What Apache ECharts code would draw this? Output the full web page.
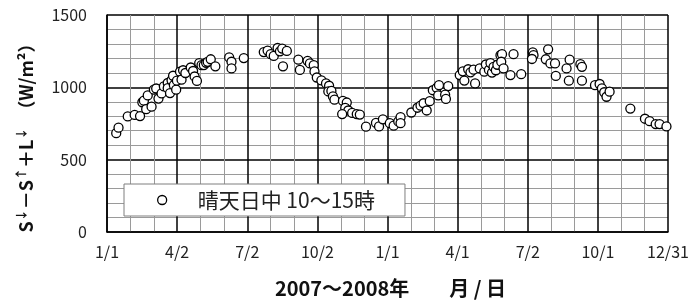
<!DOCTYPE html>
<html><head><meta charset="utf-8">
<script src="https://cdn.jsdelivr.net/npm/echarts@6/dist/echarts.min.js"></script>
<style>html,body{margin:0;padding:0;background:#fff}#c{width:700px;height:307px}</style>
</head><body><div id="c"></div>
<script>
// day offset from 2007-01-01
const days = [12,15,27,36,43,46,48,51,58,53,61,64,67,71,74,79,79,82,84,86,87,90,91,95,97,99,102,109,112,114,117,120,123,126,129,131,135,141,159,162,162,178,204,209,213,217,222,225,228,234,229,249,251,261,264,269,270,273,279,285,289,288,292,294,296,307,312,310,314,306,319,325,329,337,350,354,359,368,373,379,382,382,396,404,408,412,416,420,424,429,432,431,440,441,444,459,463,465,470,473,477,479,485,491,493,497,499,501,503,506,508,512,514,513,516,525,529,539,554,555,553,574,571,577,583,584,598,602,601,616,618,618,635,641,644,647,650,654,681,700,706,714,719,728];
const values = [683,721,799,809,801,897,908,849,866,944,984,992,922,958,1006,1030,994,960,1049,1080,1015,984,1046,1108,1053,1118,1099,1137,1113,1075,1044,1168,1153,1154,1170,1176,1194,1145,1207,1177,1131,1202,1244,1254,1229,1217,1272,1249,1268,1252,1145,1191,1120,1183,1165,1154,1110,1068,1048,1027,1011,972,975,937,915,906,895,858,840,815,823,815,812,728,754,730,779,752,735,764,794,752,826,859,873,890,840,904,980,997,1015,944,949,920,1009,1085,1111,1047,1125,1104,1122,1027,1131,1108,1158,1120,1168,1102,1142,1118,1156,1222,1229,1177,1131,1085,1229,1091,1241,1222,1196,1263,1194,1165,1165,1079,1131,1191,1046,1160,1142,1046,1015,1023,993,966,935,970,853,783,766,746,746,730];
const xTickLabels = ['1/1','4/2','7/2','10/2','1/1','4/1','7/2','10/1','12/31'];
const yTickLabels = ['0','500','1000','1500'];
const seriesName = '晴天日中 10～15時';
const xName = '2007～2008年　　月 / 日';

const FONT = '"Noto Sans CJK JP", "Noto Sans", sans-serif';
const XMAX = 730, XINT = XMAX / 8;
const points = days.map((d, i) => [d, values[i]]);

const chart = echarts.init(document.getElementById('c'), null, {renderer: 'canvas'});
chart.setOption({
  backgroundColor: '#fff',
  animation: false,
  grid: {left: 107, right: 32, top: 15, bottom: 75, containLabel: false},
  xAxis: {
    type: 'value', min: 0, max: XMAX, interval: XINT,
    name: xName, nameLocation: 'middle', nameGap: 46,
    nameTextStyle: {fontFamily: FONT, fontSize: 20, fontWeight: 'bold', color: '#111', padding: [0, 0, 0, 6]},
    axisLine: {show: true, lineStyle: {color: '#000', width: 1.5}},
    axisTick: {show: false},
    minorTick: {show: false, splitNumber: 3},
    minorSplitLine: {show: true, lineStyle: {color: '#9a9a9a', width: 1}},
    splitLine: {show: true, lineStyle: {color: '#000', width: 1.5}},
    axisLabel: {
      margin: 12, fontFamily: FONT, fontSize: 16, color: '#222',
      formatter: v => xTickLabels[Math.round(v / XINT)] || ''
    }
  },
  yAxis: {
    type: 'value', min: 0, max: 1500, interval: 500,
    name: '{b|S}{a|↓}{b|－S}{a|↑}{b|＋L}{a|↓}{b|　（W/m²）}',
    nameLocation: 'middle', nameGap: 70,
    nameTextStyle: {
      fontFamily: FONT, color: '#111', padding: [0, 0, 0, -20],
      rich: {
        b: {fontFamily: FONT, fontSize: 18, fontWeight: 'bold', color: '#111', lineHeight: 22},
        a: {fontFamily: FONT, fontSize: 12, fontWeight: 'bold', color: '#111', lineHeight: 22, verticalAlign: 'top'}
      }
    },
    axisLine: {show: true, lineStyle: {color: '#000', width: 1.5}},
    axisTick: {show: false},
    minorTick: {show: false, splitNumber: 5},
    minorSplitLine: {show: true, lineStyle: {color: '#9a9a9a', width: 1}},
    splitLine: {show: true, lineStyle: {color: '#000', width: 1.5}},
    axisLabel: {
      margin: 20, fontFamily: FONT, fontSize: 16, color: '#222',
      formatter: v => yTickLabels[Math.round(v / 500)] || ''
    }
  },
  legend: {
    show: true, left: 124, top: 184, orient: 'horizontal',
    backgroundColor: '#fff', borderColor: '#7f7f7f', borderWidth: 1,
    padding: [5, 30, 5, 33],
    itemWidth: 9, itemHeight: 9,
    itemStyle: {color: '#fff', borderColor: '#000', borderWidth: 1.3},
    textStyle: {fontFamily: FONT, fontSize: 21, color: '#222', lineHeight: 22, padding: [0, 0, 0, 26]},
    data: [seriesName]
  },
  series: [{
    name: seriesName, type: 'scatter', data: points,
    symbol: 'circle', symbolSize: 9,
    itemStyle: {color: '#fff', borderColor: '#000', borderWidth: 1.3, opacity: 1},
    emphasis: {disabled: true}
  }]
});
</script></body></html>
